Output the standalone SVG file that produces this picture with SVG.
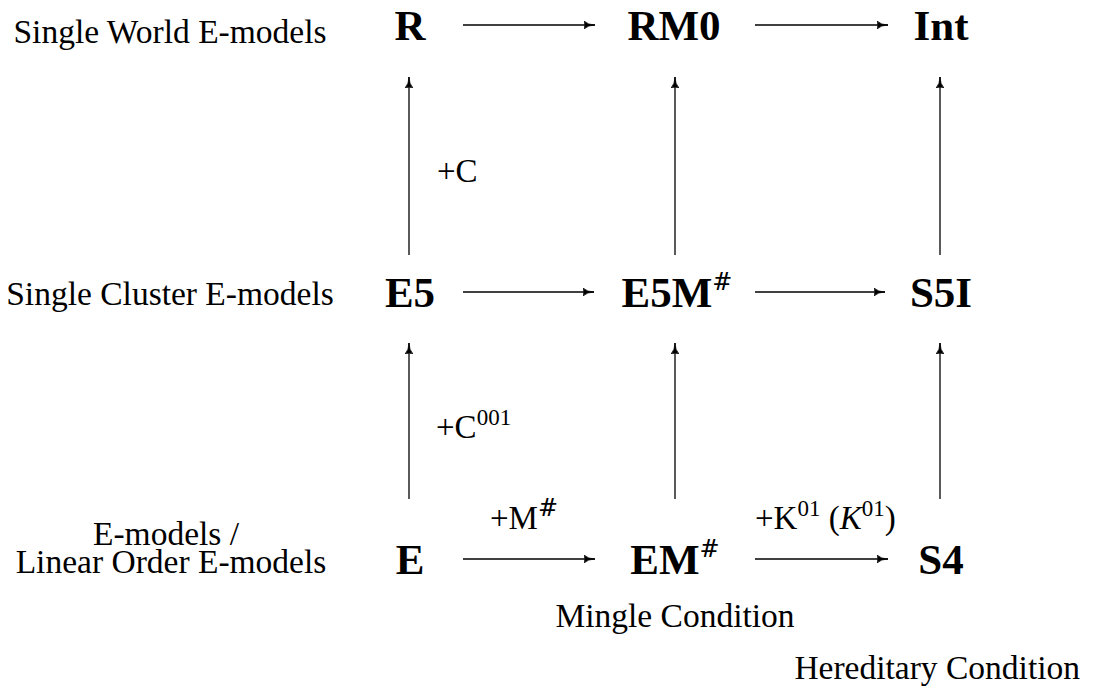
<svg xmlns="http://www.w3.org/2000/svg" width="1094" height="688" viewBox="0 0 1094 688">
<style>
.lbl{font-family:"Liberation Serif","DejaVu Serif",serif;font-size:33.5px;fill:#000}
.node{font-family:"Liberation Serif","DejaVu Serif",serif;font-size:43px;font-weight:bold;fill:#000}
.edge{font-family:"Liberation Serif","DejaVu Serif",serif;font-size:33px;fill:#000}
.sup{font-size:23px;font-weight:normal}
.hash{font-family:"DejaVu Serif",serif;font-size:24px;font-weight:normal}
.conn line{stroke:#000;stroke-width:1.3;marker-end:url(#ah)}
</style>
<defs>
<marker id="ah" viewBox="0 0 11 8" refX="11" refY="4" markerWidth="11" markerHeight="8" markerUnits="userSpaceOnUse" orient="auto">
<path d="M0,0 Q4,4 11,4 Q4,4 0,8 Q2,4 0,0 Z" fill="#000" stroke="#000" stroke-width="0.8"/>
</marker>
</defs>
<rect width="1094" height="688" fill="#fff"/>
<g id="row-labels">
<text class="lbl" x="170" y="43" text-anchor="middle">Single World E-models</text>
<text class="lbl" x="170" y="305" text-anchor="middle">Single Cluster E-models</text>
<text class="lbl" x="166" y="545" text-anchor="middle">E-models /</text>
<text class="lbl" x="171" y="573" text-anchor="middle">Linear Order E-models</text>
</g>
<g id="node-R"><text class="node" x="410" y="40" text-anchor="middle">R</text></g>
<g id="node-RM0"><text class="node" x="674" y="40" text-anchor="middle">RM0</text></g>
<g id="node-Int"><text class="node" x="941" y="40" text-anchor="middle">Int</text></g>
<g id="node-E5"><text class="node" x="410" y="307" text-anchor="middle">E5</text></g>
<g id="node-E5M"><text class="node" x="677" y="307" text-anchor="middle">E5M<tspan class="hash" dy="-17">#</tspan></text></g>
<g id="node-S5I"><text class="node" x="941" y="307" text-anchor="middle">S5I</text></g>
<g id="node-E"><text class="node" x="410" y="574" text-anchor="middle">E</text></g>
<g id="node-EM"><text class="node" x="675" y="574" text-anchor="middle">EM<tspan class="hash" dy="-17">#</tspan></text></g>
<g id="node-S4"><text class="node" x="941" y="574" text-anchor="middle">S4</text></g>
<g id="connectors" class="conn">
<line x1="463" y1="25" x2="595" y2="25"/>
<line x1="755" y1="25" x2="888" y2="25"/>
<line x1="463" y1="292" x2="594" y2="292"/>
<line x1="755" y1="292" x2="885" y2="292"/>
<line x1="463" y1="559" x2="595" y2="559"/>
<line x1="755" y1="559" x2="888" y2="559"/>
<line x1="409" y1="255" x2="409" y2="77"/>
<line x1="675" y1="255" x2="675" y2="77"/>
<line x1="940" y1="255" x2="940" y2="77"/>
<line x1="409" y1="499" x2="409" y2="343"/>
<line x1="675" y1="499" x2="675" y2="343"/>
<line x1="940" y1="499" x2="940" y2="343"/>
</g>
<g id="edge-labels">
<text class="edge" x="437" y="182">+C</text>
<text class="edge" x="436" y="438">+C<tspan class="sup" dy="-13">001</tspan></text>
<text class="edge" x="490" y="529">+M<tspan class="hash" dy="-13">#</tspan></text>
<text class="edge" x="755" y="529">+K<tspan class="sup" dy="-13">01</tspan><tspan dy="13"> (</tspan><tspan font-style="italic">K</tspan><tspan class="sup" dy="-13">01</tspan><tspan dy="13">)</tspan></text>
</g>
<g id="conditions">
<text class="lbl" x="675" y="627" text-anchor="middle">Mingle Condition</text>
<text class="lbl" x="1080" y="679" text-anchor="end">Hereditary Condition</text>
</g>
</svg>
